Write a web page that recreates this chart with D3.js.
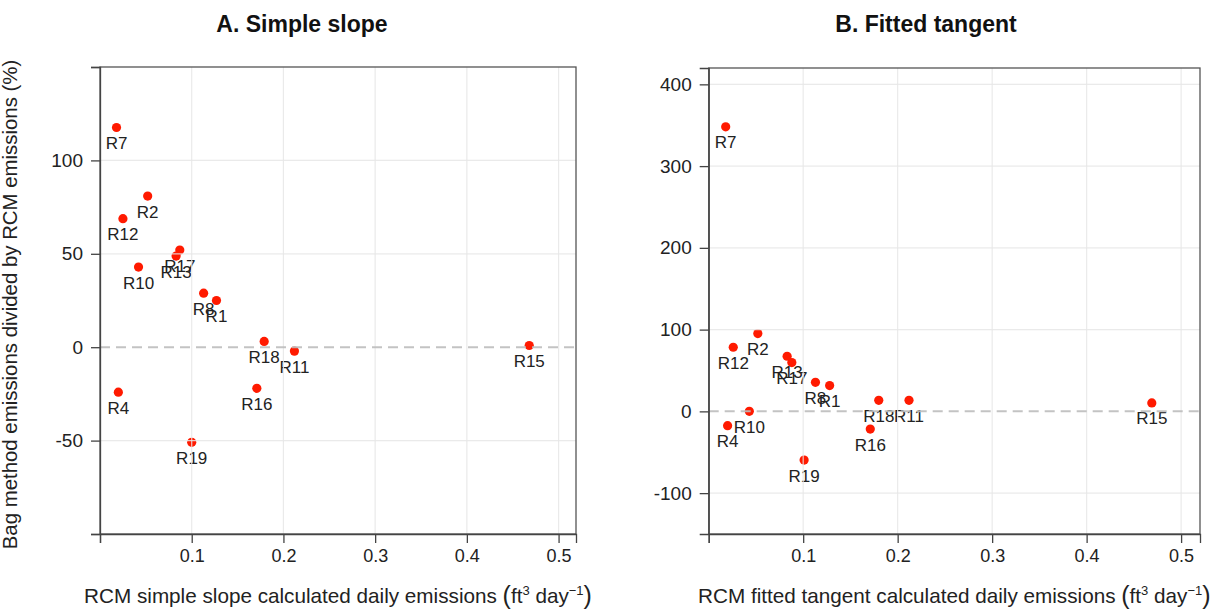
<!DOCTYPE html>
<html>
<head>
<meta charset="utf-8">
<script src="https://cdn.jsdelivr.net/npm/d3@7"></script>
<style>
  html, body { margin: 0; padding: 0; background: #fff; }
  svg { display: block; font-family: "Liberation Sans", Arial, Helvetica, sans-serif; }
</style>
</head>
<body>
<svg id="chart" width="1214" height="611"></svg>
<script>
// ---- data ----
const sites = ["R1","R2","R4","R7","R8","R10","R11","R12","R13","R15","R16","R17","R18","R19"];
const slopeX = [0.127, 0.052, 0.020, 0.018, 0.113, 0.042, 0.212, 0.025, 0.083, 0.468, 0.171, 0.087, 0.179, 0.100];
const slopeY = [25.0, 80.9, -24.1, 117.6, 28.9, 42.9, -2.1, 68.8, 48.8, 0.9, -22.0, 52.0, 3.1, -50.9];
const tangentX = [0.128, 0.052, 0.020, 0.018, 0.113, 0.043, 0.212, 0.026, 0.083, 0.469, 0.171, 0.088, 0.180, 0.101];
const tangentY = [31.5, 95.2, -17.5, 348, 35.5, 0, 13.5, 78.4, 67.4, 10.3, -21.6, 59.7, 13.5, -59.6];
const xTicks = [0, 0.1, 0.2, 0.3, 0.4, 0.5];
const xTickLabels = ["", "0.1", "0.2", "0.3", "0.4", "0.5"];
const yTicksA = [-100, -50, 0, 50, 100, 150];
const yTickLabelsA = ["", "-50", "0", "50", "100", ""];
const yTicksB = [-100, 0, 100, 200, 300, 400];
const yTickLabelsB = ["-100", "0", "100", "200", "300", "400"];
const titles = ["A. Simple slope", "B. Fitted tangent"];
const xLabelStart = ["RCM simple slope calculated daily emissions ", "RCM fitted tangent calculated daily emissions "];
const yLabel = "Bag method emissions divided by RCM emissions (%)";

const svg = d3.select("#chart");

const panels = [
  { xs: slopeX, ys: slopeY, left: 100, right: 576, top: 67, bottom: 534,
    xDom: [0, 0.519], yDom: [-100, 150], yTicks: yTicksA, yLabels: yTickLabelsA,
    yGrid: [-50, 50, 100], titleX: 302, title: titles[0], xlab: xLabelStart[0], ylab: true },
  { xs: tangentX, ys: tangentY, left: 708.7, right: 1200, top: 68, bottom: 534,
    xDom: [0, 0.52], yDom: [-150, 420], yTicks: yTicksB, yLabels: yTickLabelsB,
    yGrid: [-100, 100, 200, 300, 400], titleX: 926, title: titles[1], xlab: xLabelStart[1], ylab: false }
];

panels.forEach(p => {
  const x = d3.scaleLinear().domain(p.xDom).range([p.left, p.right]);
  const y = d3.scaleLinear().domain(p.yDom).range([p.bottom, p.top]);
  const g = svg.append("g");

  // points
  const data = sites.map((s, i) => ({ s, x: p.xs[i], y: p.ys[i] }));
  g.selectAll("circle.pt").data(data).enter().append("circle")
    .attr("class", "pt")
    .attr("cx", d => x(d.x)).attr("cy", d => y(d.y)).attr("r", 4.6)
    .attr("fill", "#ff1a00");

  // labels
  g.selectAll("text.lab").data(data).enter().append("text")
    .attr("class", "lab")
    .attr("x", d => x(d.x)).attr("y", d => y(d.y) + 21.5)
    .attr("text-anchor", "middle")
    .attr("font-size", 17).attr("fill", "#222")
    .text(d => d.s);

  // grid (drawn over points, as in the reference)
  g.selectAll("line.vg").data(xTicks.filter(t => t > 0)).enter().append("line")
    .attr("x1", d => x(d)).attr("x2", d => x(d))
    .attr("y1", p.top).attr("y2", p.bottom)
    .attr("stroke", "#e6e6e6").attr("stroke-width", 1.2).attr("stroke-opacity", 0.85);
  g.selectAll("line.hg").data(p.yGrid).enter().append("line")
    .attr("x1", p.left).attr("x2", p.right)
    .attr("y1", d => y(d)).attr("y2", d => y(d))
    .attr("stroke", "#e6e6e6").attr("stroke-width", 1.2).attr("stroke-opacity", 0.85);

  // zero dashed line
  g.append("line")
    .attr("x1", p.left).attr("x2", p.right)
    .attr("y1", y(0)).attr("y2", y(0))
    .attr("stroke", "#bdbdbd").attr("stroke-width", 2)
    .attr("stroke-dasharray", "10,6").attr("stroke-opacity", 0.9);

  // box
  g.append("rect")
    .attr("x", p.left).attr("y", p.top)
    .attr("width", p.right - p.left).attr("height", p.bottom - p.top)
    .attr("fill", "none").attr("stroke", "#555").attr("stroke-width", 1.3);

  // x axis
  const xAxis = d3.axisBottom(x).tickValues(xTicks)
    .tickFormat((d, i) => xTickLabels[i]).tickSize(9).tickPadding(6);
  const xa = g.append("g").attr("transform", `translate(0,${p.bottom})`).call(xAxis);
  xa.select(".domain").attr("stroke", "#444").attr("stroke-width", 1.3);
  xa.selectAll(".tick line").attr("stroke", "#444").attr("stroke-width", 1.3);
  xa.selectAll(".tick text").attr("font-size", 18).attr("fill", "#222")
    .attr("font-family", "Liberation Sans, Arial, sans-serif");

  // y axis
  const yAxis = d3.axisLeft(y).tickValues(p.yTicks)
    .tickFormat((d, i) => p.yLabels[i]).tickSize(9).tickPadding(8);
  const ya = g.append("g").attr("transform", `translate(${p.left},0)`).call(yAxis);
  ya.select(".domain").attr("stroke", "#444").attr("stroke-width", 1.3);
  ya.selectAll(".tick line").attr("stroke", "#444").attr("stroke-width", 1.3);
  ya.selectAll(".tick text").attr("font-size", 19).attr("fill", "#222")
    .attr("font-family", "Liberation Sans, Arial, sans-serif");

  // title
  g.append("text").attr("x", p.titleX).attr("y", 32)
    .attr("text-anchor", "middle").attr("font-size", 23).attr("font-weight", "bold")
    .attr("fill", "#111").text(p.title);

  // x label with superscripts
  const xl = g.append("text").attr("x", (p.left + p.right) / 2).attr("y", 603)
    .attr("text-anchor", "middle").attr("font-size", 20.7).attr("fill", "#222");
  xl.append("tspan").text(p.xlab);
  xl.append("tspan").attr("font-size", 25).attr("dy", 1).text("(");
  xl.append("tspan").attr("font-size", 20.7).attr("dy", -1).text("ft");
  xl.append("tspan").attr("font-size", 13).attr("dy", -8).text("3");
  xl.append("tspan").attr("font-size", 20.7).attr("dy", 8).text(" day");
  xl.append("tspan").attr("font-size", 13).attr("dy", -8).text("\u22121");
  xl.append("tspan").attr("font-size", 25).attr("dy", 9).text(")");

  if (p.ylab) {
    g.append("text")
      .attr("transform", `translate(17,${(p.top + p.bottom) / 2 + 4}) rotate(-90)`)
      .attr("text-anchor", "middle").attr("font-size", 20.4).attr("fill", "#222")
      .text(yLabel);
  }
});
</script>
</body>
</html>
